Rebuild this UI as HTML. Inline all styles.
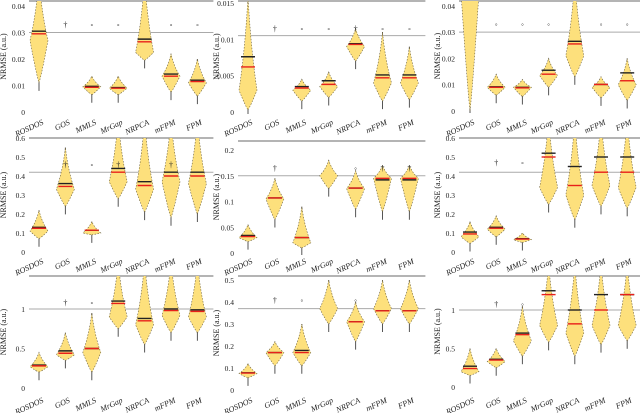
<!DOCTYPE html>
<html><head><meta charset="utf-8"><style>
html,body{margin:0;padding:0;background:#fff;width:640px;height:413px;overflow:hidden}
svg{display:block}
text{font-family:"Liberation Serif",serif;fill:#222}
</style></head><body>
<svg id="fig" width="640" height="413" viewBox="0 0 640 413" xmlns="http://www.w3.org/2000/svg"></svg>
<script>
const categories = ["ROSDOS","GOS","MMLS","MrGap","NRPCA","mFPM","FPM"];
// panel r1c1
const r1c1Low = [0.011,null,0.0065,0.0065,0.0195,0.0075,0.006];
const r1c1High = [0.05,null,0.0135,0.0135,0.05,0.022,0.02];
const r1c1Peak = [0.027,null,0.0095,0.009,0.0225,0.0135,0.011];
const r1c1Median = [0.0295,null,0.0093,0.009,0.0265,0.0135,0.0115];
const r1c1Mean = [0.0305,null,0.0097,0.0092,0.0275,0.0143,0.012];
const r1c1Ticks = [0,0.01,0.02,0.03,0.04];
const r1c1TickLabels = ["0","0.01","0.02","0.03","0.04"];
// panel r1c2
const r1c2Low = [0.0003,null,0.0015,0.002,0.007,0.0015,0.0017];
const r1c2High = [0.016,null,0.0045,0.0055,0.0115,0.011,0.009];
const r1c2Peak = [0.003,null,0.003,0.0035,0.009,0.004,0.004];
const r1c2Median = [0.0062,null,0.0033,0.0038,0.0093,0.0047,0.0047];
const r1c2Mean = [0.0076,null,0.0035,0.0043,0.0094,0.0051,0.0051];
const r1c2Ticks = [0,0.005,0.01,0.015];
const r1c2TickLabels = ["0","0.005","0.01","0.015"];
// panel r1c3
const r1c3Low = [0.0,0.006,0.0055,0.009,0.013,0.005,0.004];
const r1c3High = [0.05,0.014,0.012,0.02,0.05,0.013,0.02];
const r1c3Peak = [0.045,0.009,0.009,0.0135,0.021,0.009,0.01];
const r1c3Median = [null,0.009,0.0088,0.014,0.0255,0.0101,0.0115];
const r1c3Mean = [null,0.0092,0.009,0.0155,0.0265,0.0101,0.0145];
const r1c3Ticks = [0,0.01,0.02,0.03,0.04];
const r1c3TickLabels = ["0","0.01","0.02","0.03","0.04"];
// panel r2c1
const r2c1Low = [0.07,0.24,0.09,0.28,0.21,0.18,0.2];
const r2c1High = [0.22,0.55,0.16,0.7,0.7,0.7,0.7];
const r2c1Peak = [0.11,0.33,0.1,0.37,0.33,0.37,0.36];
const r2c1Median = [0.125,0.345,0.115,0.42,0.35,0.4,0.4];
const r2c1Mean = [0.13,0.36,0.115,0.44,0.37,0.42,0.42];
const r2c1Ticks = [0,0.1,0.2,0.3,0.4,0.5,0.6];
const r2c1TickLabels = ["0","0.1","0.2","0.3","0.4","0.5","0.6"];
// panel r2c2
const r2c2Low = [0.022,0.065,0.01,0.125,0.085,0.08,0.08];
const r2c2High = [0.055,0.145,0.09,0.18,0.16,0.17,0.17];
const r2c2Peak = [0.03,0.105,0.02,0.15,0.125,0.145,0.145];
const r2c2Median = [0.032,0.107,0.03,null,0.126,0.145,0.145];
const r2c2Mean = [0.034,0.107,0.03,null,0.126,0.142,0.142];
const r2c2Ticks = [0,0.05,0.1,0.15,0.2];
const r2c2TickLabels = ["0","0.05","0.1","0.15","0.2"];
// panel r2c3
const r2c3Low = [0.045,0.08,0.05,0.25,0.17,0.24,0.23];
const r2c3High = [0.16,0.19,0.1,0.7,0.7,0.7,0.7];
const r2c3Peak = [0.08,0.12,0.065,0.34,0.3,0.35,0.34];
const r2c3Median = [0.095,0.125,0.068,0.5,0.35,0.42,0.42];
const r2c3Mean = [0.105,0.13,0.07,0.52,0.45,0.5,0.5];
const r2c3Ticks = [0,0.1,0.2,0.3,0.4,0.5,0.6];
const r2c3TickLabels = ["0","0.1","0.2","0.3","0.4","0.5","0.6"];
// panel r3c1
const r3c1Low = [0.2,0.35,0.2,0.75,0.55,0.7,0.7];
const r3c1High = [0.45,0.7,0.95,1.6,1.6,1.6,1.6];
const r3c1Peak = [0.27,0.42,0.45,0.9,0.8,0.92,0.9];
const r3c1Median = [0.28,0.44,0.5,1.07,0.85,0.98,0.97];
const r3c1Mean = [0.29,0.47,0.5,1.1,0.88,1.0,0.99];
const r3c1Ticks = [0,0.5,1];
const r3c1TickLabels = ["0","0.5","1"];
// panel r3c2
const r3c2Low = [0.055,0.11,0.11,0.3,0.22,0.3,0.3];
const r3c2High = [0.12,0.22,0.3,0.5,0.4,0.5,0.5];
const r3c2Peak = [0.075,0.17,0.17,0.37,0.31,0.37,0.37];
const r3c2Median = [0.077,0.17,0.17,null,0.31,0.36,0.36];
const r3c2Mean = [0.078,0.17,0.18,null,0.31,0.36,0.36];
const r3c2Ticks = [0,0.1,0.2,0.3,0.4,0.5];
const r3c2TickLabels = ["0","0.1","0.2","0.3","0.4","0.5"];
// panel r3c3
const r3c3Low = [0.15,0.25,0.4,0.58,0.4,0.55,0.6];
const r3c3High = [0.5,0.5,1.05,1.6,1.6,1.6,1.6];
const r3c3Peak = [0.2,0.33,0.6,0.8,0.7,0.8,0.8];
const r3c3Median = [0.24,0.35,0.68,1.2,0.82,1.0,1.2];
const r3c3Mean = [0.27,0.36,0.7,1.25,1.0,1.2,1.2];
const r3c3Ticks = [0,0.5,1];
const r3c3TickLabels = ["0","0.5","1"];

const NS = "http://www.w3.org/2000/svg";
const svg = document.getElementById("fig");
function mk(tag, attrs, parent){
  const e = document.createElementNS(NS, tag);
  for (const k in attrs) e.setAttribute(k, attrs[k]);
  (parent||svg).appendChild(e);
  return e;
}

const panels = [
 {id:"r1c1", lo:r1c1Low, hi:r1c1High, pk:r1c1Peak, md:r1c1Median, mn:r1c1Mean, ticks:r1c1Ticks, tl:r1c1TickLabels, zero:112, scale:2650, top:1, gray:0.03, x0:39, step:26.4, tickX:25, titleX:6, labY:124, marks:["","†","◦","◦","","◦","◦"], markV:0.033},
 {id:"r1c2", lo:r1c2Low, hi:r1c2High, pk:r1c2Peak, md:r1c2Median, mn:r1c2Mean, ticks:r1c2Ticks, tl:r1c2TickLabels, zero:112, scale:7270, top:1, gray:0.0105, x0:248, step:26.9, tickX:234, titleX:219, labY:124, marks:["","†","◦","◦","†","◦","◦"], markV:0.0115},
 {id:"r1c3", lo:r1c3Low, hi:r1c3High, pk:r1c3Peak, md:r1c3Median, mn:r1c3Mean, ticks:r1c3Ticks, tl:r1c3TickLabels, zero:111, scale:2630, top:1, gray:0.03, x0:470, step:26.2, tickX:455, titleX:440, labY:124, marks:["","◦","◦","◦","","◦","◦"], markV:0.033},
 {id:"r2c1", lo:r2c1Low, hi:r2c1High, pk:r2c1Peak, md:r2c1Median, mn:r2c1Mean, ticks:r2c1Ticks, tl:r2c1TickLabels, zero:252, scale:190, top:138, gray:0.42, x0:39, step:26.4, tickX:25, titleX:6, labY:263, marks:["","†","◦","†","","†",""], markV:0.46},
 {id:"r2c2", lo:r2c2Low, hi:r2c2High, pk:r2c2Peak, md:r2c2Median, mn:r2c2Mean, ticks:r2c2Ticks, tl:r2c2TickLabels, zero:253, scale:515, top:141, gray:0.15, x0:248, step:26.9, tickX:234, titleX:219, labY:263, marks:["","†","","","◦","†","†"], markV:0.165},
 {id:"r2c3", lo:r2c3Low, hi:r2c3High, pk:r2c3Peak, md:r2c3Median, mn:r2c3Mean, ticks:r2c3Ticks, tl:r2c3TickLabels, zero:252, scale:190, top:138, gray:0.42, x0:470, step:26.2, tickX:455, titleX:440, labY:263, marks:["","†","◦","","","",""], markV:0.47},
 {id:"r3c1", lo:r3c1Low, hi:r3c1High, pk:r3c1Peak, md:r3c1Median, mn:r3c1Mean, ticks:r3c1Ticks, tl:r3c1TickLabels, zero:388, scale:79, top:276, gray:1, x0:39, step:26.4, tickX:25, titleX:6, labY:402, marks:["","†","◦","","","",""], markV:1.08},
 {id:"r3c2", lo:r3c2Low, hi:r3c2High, pk:r3c2Peak, md:r3c2Median, mn:r3c2Mean, ticks:r3c2Ticks, tl:r3c2TickLabels, zero:390, scale:220, top:276, gray:0.37, x0:248, step:26.9, tickX:234, titleX:219, labY:402, marks:["","†","◦","","◦","",""], markV:0.41},
 {id:"r3c3", lo:r3c3Low, hi:r3c3High, pk:r3c3Peak, md:r3c3Median, mn:r3c3Mean, ticks:r3c3Ticks, tl:r3c3TickLabels, zero:387, scale:77, top:276, gray:1, x0:470, step:26.2, tickX:455, titleX:440, labY:402, marks:["","†","◦","","","",""], markV:1.08}
];

panels.forEach(function(p){
  const g = mk("g", {});
  
  
  const y = function(v){ return p.zero - v*p.scale; };
  const xc = function(i){ return p.x0 + i*p.step; };
  const left = p.tickX + 4, right = Math.min(xc(6)+16, 640);
  const cp = mk("clipPath", {id:"clip-"+p.id}, g);
  mk("rect", {x:left-5, y:p.top, width:right-left+10, height:p.zero-p.top+2}, cp);
  const tl = mk("line", {x1:left, x2:right, y1:p.top, y2:p.top, stroke:"#888", "stroke-width":1.2}, g);
  
  
  const gl = mk("line", {x1:left, x2:right, y1:y(p.gray), y2:y(p.gray), stroke:"#aaa", "stroke-width":1}, g);
  
  
  p.ticks.forEach(function(t, k){
    const tx = mk("text", {x:p.tickX, y:y(t)+3, "font-size":7.5, "text-anchor":"end"}, g);
    tx.textContent = p.tl[k];
    
    
  });
  const ymid = (p.top + p.zero)/2;
  const yt = mk("text", {x:p.titleX, y:ymid, "font-size":8, "text-anchor":"middle", transform:"rotate(-90 "+p.titleX+" "+ymid+")"}, g);
  yt.textContent = "NRMSE (a.u.)";
  
  
  const vg = mk("g", {"clip-path":"url(#clip-"+p.id+")"}, g);
  categories.forEach(function(c, i){
    const cx = xc(i);
    if (p.lo[i] !== null) {
      const yl = y(p.lo[i]), yh = y(p.hi[i]), yp = y(p.pk[i]);
      const w = 9;
      const wl = mk("line", {x1:cx, x2:cx, y1:yl+8, y2:yh, stroke:"#555", "stroke-width":1}, vg);
      
      
      const poly = mk("path", {d:"M"+cx+","+yl+" Q"+(cx+w*0.3)+","+(yl+(yp-yl)*0.2)+" "+(cx+w)+","+yp+" Q"+(cx+w*0.3)+","+(yp+(yh-yp)*0.45)+" "+cx+","+yh+" Q"+(cx-w*0.3)+","+(yp+(yh-yp)*0.45)+" "+(cx-w)+","+yp+" Q"+(cx-w*0.3)+","+(yl+(yp-yl)*0.2)+" "+cx+","+yl+"Z",
        fill:"#fde07c", stroke:"#6b6040", "stroke-width":0.6, "stroke-dasharray":"1.5,1.5"}, vg);
      
      
      if (p.mn[i] !== null) {
        const ml = mk("line", {x1:cx-7, x2:cx+7, y1:y(p.mn[i]), y2:y(p.mn[i]), stroke:"#222", "stroke-width":1.4}, vg);
        
        
      }
      if (p.md[i] !== null) {
        const rl = mk("line", {x1:cx-7, x2:cx+7, y1:y(p.md[i]), y2:y(p.md[i]), stroke:"#e8201a", "stroke-width":1.4}, vg);
        
        
      }
    }
    if (p.marks[i]) {
      const mt = mk("text", {x:cx, y:y(p.markV)+3, "font-size":8, "text-anchor":"middle", fill:"#444"}, g);
      mt.textContent = p.marks[i];
      
      
    }
    const lx = cx + 5, ly = p.labY;
    const lab = mk("text", {x:lx, y:ly, "font-size":8, "font-style":"italic", "text-anchor":"end", transform:"rotate(-25 "+lx+" "+ly+")"}, g);
    lab.textContent = c;
    
    
  });
});
</script>
</body></html>
